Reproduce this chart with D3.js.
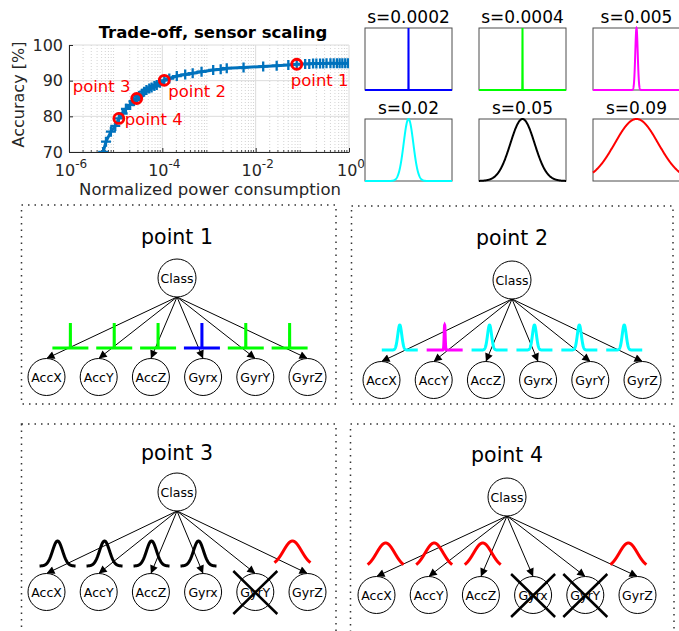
<!DOCTYPE html>
<html><head><meta charset="utf-8">
<script src="https://cdn.jsdelivr.net/npm/d3@7"></script>
<style>body{margin:0;background:#fff}svg{display:block}text{font-family:"DejaVu Sans",sans-serif}</style>
</head><body><svg id="c" width="679" height="631"></svg>
<script>
// ---- data: trade-off curve ----
const powerValues = [5.4e-6,6.2e-6,7.9e-6,9.8e-6,1.17e-5,1.41e-5,1.66e-5,2.04e-5,2.4e-5,2.82e-5,3.16e-5,3.63e-5,4.07e-5,4.57e-5,5.25e-5,5.89e-5,6.76e-5,7.59e-5,8.9e-5,1.10e-4,1.41e-4,2.04e-4,3.09e-4,4.47e-4,6.92e-4,1.23e-3,1.78e-3,2.4e-3,5.5e-3,0.0145,0.0282,0.0501,0.0759,0.115,0.141,0.17,0.2,0.24,0.28,0.33,0.4,0.47,0.55,0.63,0.72,0.83,0.95];
const accuracyValues = [70,72.9,75.7,77.3,79.4,80.8,82.1,83.2,84.2,85.0,85.7,86.3,86.9,87.4,87.8,88.1,88.5,88.8,89.4,90.1,90.6,91.3,91.7,92.1,92.5,93.0,93.2,93.5,93.7,94.0,94.2,94.4,94.6,94.7,94.7,94.8,94.8,94.8,94.8,94.9,94.9,94.9,94.9,94.9,94.9,94.9,94.9];
const opLabels = ["point 1","point 2","point 3","point 4"];
const opPower = [0.0759,1.10e-4,2.82e-5,1.17e-5];
const opAccuracy = [94.6,90.1,85.0,79.4];
const xTickExps = [-6,-4,-2,0];
const yTicks = [70,80,90,100];
// ---- data: scales ----
const scaleValues = [0.0002,0.0004,0.005,0.02,0.05,0.09];
const scaleColors = ["#0000ff","#00ff00","#ff00ff","#00ffff","#000000","#ff0000"];
const sensors = ["AccX","AccY","AccZ","Gyrx","GyrY","GyrZ"];
const point1Scales = [0.0004,0.0004,0.0004,0.0002,0.0004,0.0004];
const point2Scales = [0.02,0.005,0.02,0.02,0.02,0.02];
const point3Scales = [0.05,0.05,0.05,0.05,null,0.09];
const point4Scales = [0.09,0.09,0.09,null,null,0.09];

const svg = d3.select("#c");

// ================= main trade-off plot =================
const L=69,R=349,T=45,B=152;
const x = d3.scaleLog().domain([1e-6,1]).range([L,R]);
const y = d3.scaleLinear().domain([70,100]).range([B,T]);
const g = svg.append("g");
g.append("clipPath").attr("id","pc").append("rect").attr("x",L).attr("y",T).attr("width",R-L).attr("height",B-T);

// minor grid
const minors=[];
for(let e=-6;e<0;e++) for(let k=2;k<=9;k++) minors.push(k*Math.pow(10,e));
g.selectAll(".mg").data(minors).join("line").attr("x1",d=>x(d)).attr("x2",d=>x(d)).attr("y1",T).attr("y2",B)
 .attr("stroke","#c8c8c8").attr("stroke-width",0.8).attr("stroke-dasharray","1,2");
// major grid
g.selectAll(".gx").data(xTickExps).join("line").attr("x1",d=>x(Math.pow(10,d))).attr("x2",d=>x(Math.pow(10,d))).attr("y1",T).attr("y2",B).attr("stroke","#dcdcdc");
g.selectAll(".gy").data(yTicks).join("line").attr("y1",d=>y(d)).attr("y2",d=>y(d)).attr("x1",L).attr("x2",R).attr("stroke","#dcdcdc");

// axes (inward ticks)
const xAxis = d3.axisBottom(x).tickValues(xTickExps.map(e=>Math.pow(10,e))).tickSizeInner(-4).tickSizeOuter(0).tickFormat("");
const ax = g.append("g").attr("transform",`translate(0,${B})`).call(xAxis);
ax.select(".domain").attr("stroke","#262626");
ax.selectAll(".tick line").attr("stroke","#262626");
g.selectAll(".mt").data(minors).join("line").attr("x1",d=>x(d)).attr("x2",d=>x(d)).attr("y1",B).attr("y2",B-2).attr("stroke","#262626").attr("stroke-width",0.8);
const yAxis = d3.axisLeft(y).tickValues(yTicks).tickSizeInner(-4).tickSizeOuter(0).tickFormat("");
const ay = g.append("g").attr("transform",`translate(${L},0)`).call(yAxis);
ay.select(".domain").attr("stroke","#262626");
ay.selectAll(".tick line").attr("stroke","#262626");

g.selectAll(".yl").data(yTicks).join("text").attr("x",L-6).attr("y",d=>y(d)).attr("dy","0.36em")
 .attr("text-anchor","end").attr("font-size",16).attr("fill","#262626").text(d=>d);
const xl = g.selectAll(".xl").data(xTickExps).join("text").attr("x",d=>x(Math.pow(10,d))+2).attr("y",B+24)
 .attr("text-anchor","middle").attr("font-size",16).attr("fill","#262626");
xl.append("tspan").text("10");
xl.append("tspan").attr("dy",-8).attr("font-size",12).text(d=>String(d));

g.append("text").attr("x",(L+R)/2+1).attr("y",195).attr("text-anchor","middle").attr("font-size",16.5).attr("fill","#262626").text("Normalized power consumption");
g.append("text").attr("transform",`translate(24,${(T+B)/2-4}) rotate(-90)`).attr("text-anchor","middle").attr("font-size",16).attr("fill","#262626").text("Accuracy [%]");
g.append("text").attr("x",213).attr("y",38).attr("text-anchor","middle").attr("font-size",16.5).attr("font-weight","bold").attr("fill","#000").text("Trade-off, sensor scaling");

// curve
const curve = d3.range(powerValues.length).map(i=>[powerValues[i],accuracyValues[i]]);
const cg = g.append("g").attr("clip-path","url(#pc)");
cg.append("path").datum(curve).attr("fill","none").attr("stroke","#0072BD").attr("stroke-width",3)
 .attr("d",d3.line().x(d=>x(d[0])).y(d=>y(d[1])));
const plus = 5;
cg.selectAll(".pm").data(curve).join("path").attr("stroke","#0072BD").attr("stroke-width",2.3).attr("fill","none")
 .attr("d",d=>{const px=x(d[0]),py=y(d[1]);return `M${px-plus},${py}H${px+plus}M${px},${py-plus}V${py+plus}`;});
// operating points
const opOffsets = [[-6,22],[4,17],[-64,-7],[6,7]];
g.selectAll(".op").data(opLabels).join("circle").attr("cx",(d,i)=>x(opPower[i])).attr("cy",(d,i)=>y(opAccuracy[i]))
 .attr("r",5).attr("fill","none").attr("stroke","#ff0000").attr("stroke-width",2.8);
g.selectAll(".opl").data(opLabels).join("text").attr("x",(d,i)=>x(opPower[i])+opOffsets[i][0]).attr("y",(d,i)=>y(opAccuracy[i])+opOffsets[i][1])
 .attr("font-size",16.5).attr("fill","#ff0000").text(d=>d);

// ================= gaussian panels =================
function gaussPts(s){
  let xs = d3.range(-0.18,0.18+1e-9,0.36/300);
  xs = xs.concat(d3.range(-6*s,6*s,s/12)).filter(v=>v>=-0.18&&v<=0.18);
  xs.sort((a,b)=>a-b);
  return xs.map(v=>[v,Math.exp(-v*v/(2*s*s))]);
}
const colX=[365,479,593], rowY=[28,119], pw=87, ph=62;
scaleValues.forEach((s,i)=>{
  const px=colX[i%3], py=rowY[Math.floor(i/3)];
  const gx=d3.scaleLinear().domain([-0.18,0.18]).range([px,px+pw]);
  const gy=d3.scaleLinear().domain([0,1]).range([py+ph,py]);
  svg.append("text").attr("x",px+pw/2).attr("y",py-5).attr("text-anchor","middle").attr("font-size",17).attr("fill","#000").text("s="+s);
  svg.append("rect").attr("x",px).attr("y",py).attr("width",pw).attr("height",ph).attr("fill","none").attr("stroke","#4d4d4d").attr("stroke-width",1);
  svg.append("path").datum(gaussPts(s)).attr("fill","none").attr("stroke",scaleColors[i]).attr("stroke-width",2)
   .attr("d",d3.line().x(d=>gx(d[0])).y(d=>gy(d[1])));
});

// ================= network panels =================
svg.append("defs").append("marker").attr("id","ah").attr("viewBox","0 0 10 10").attr("refX",10).attr("refY",5)
 .attr("markerWidth",9).attr("markerHeight",8).attr("markerUnits","userSpaceOnUse").attr("orient","auto")
 .append("path").attr("d","M0,0L10,5L0,10z").attr("fill","#000");
const panels = [
 {scales:point1Scales, box:[21.5,205,336,404], cx:177, cy:278, ty:244, childY:377, base:348, f:0.84, off:3},
 {scales:point2Scales, box:[351.5,206,673,404], cx:512, cy:280, ty:245, childY:380, base:350, f:0.86, off:0},
 {scales:point3Scales, box:[21.5,424,336,640], cx:177, cy:492, ty:460, childY:592, base:566, f:0.9, off:-2},
 {scales:point4Scales, box:[350.5,424,674,640], cx:507, cy:497, ty:462, childY:595, base:568, f:0.93, off:0}
];
const rC=19, rN=18.5, sp=52.2, GW=36, GH=25;
panels.forEach((p,pi)=>{
  const pg = svg.append("g");
  const [x0,y0,x1,y1]=p.box;
  pg.append("rect").attr("x",x0).attr("y",y0).attr("width",x1-x0).attr("height",y1-y0).attr("fill","none")
   .attr("stroke","#333").attr("stroke-width",1.5).attr("stroke-dasharray","1.5,5");
  pg.append("text").attr("x",p.cx).attr("y",p.ty).attr("text-anchor","middle").attr("font-size",20.5).attr("fill","#000").text(opLabels[pi]);
  const cxs = sensors.map((s,i)=>p.cx+(i-2.5)*sp);
  pg.selectAll(".ar").data(sensors).join("line").attr("x1",p.cx).attr("y1",p.cy+rC).attr("x2",(d,i)=>cxs[i]).attr("y2",p.childY-rN)
   .attr("stroke","#000").attr("stroke-width",1).attr("marker-end","url(#ah)");
  pg.append("circle").attr("cx",p.cx).attr("cy",p.cy).attr("r",rC).attr("fill","#fff").attr("stroke","#000");
  pg.append("text").attr("x",p.cx).attr("y",p.cy).attr("dy","0.36em").attr("text-anchor","middle").attr("font-size",12.5).text("Class");
  pg.selectAll(".cn").data(sensors).join("circle").attr("cx",(d,i)=>cxs[i]).attr("cy",p.childY).attr("r",rN).attr("fill","#fff").attr("stroke","#000");
  pg.selectAll(".ct").data(sensors).join("text").attr("x",(d,i)=>cxs[i]).attr("y",p.childY).attr("dy","0.36em").attr("text-anchor","middle").attr("font-size",12.5).text(d=>d);
  p.scales.forEach((s,i)=>{
    if(s===null){
      const c=cxs[i], cy=p.childY;
      pg.append("path").attr("d",`M${c-22},${cy-21}L${c+22},${cy+22}M${c+22},${cy-21}L${c-22},${cy+22}`).attr("stroke","#000").attr("stroke-width",2.5);
      return;
    }
    const gxC = p.cx + (cxs[i]-p.cx)*p.f + p.off;
    const gx=d3.scaleLinear().domain([-0.18,0.18]).range([gxC-GW/2,gxC+GW/2]);
    const gy=d3.scaleLinear().domain([0,1]).range([p.base,p.base-GH]);
    pg.append("path").datum(gaussPts(s)).attr("fill","none").attr("stroke",scaleColors[scaleValues.indexOf(s)]).attr("stroke-width",3)
     .attr("d",d3.line().x(d=>gx(d[0])).y(d=>gy(d[1])));
  });
});
</script></body></html>
